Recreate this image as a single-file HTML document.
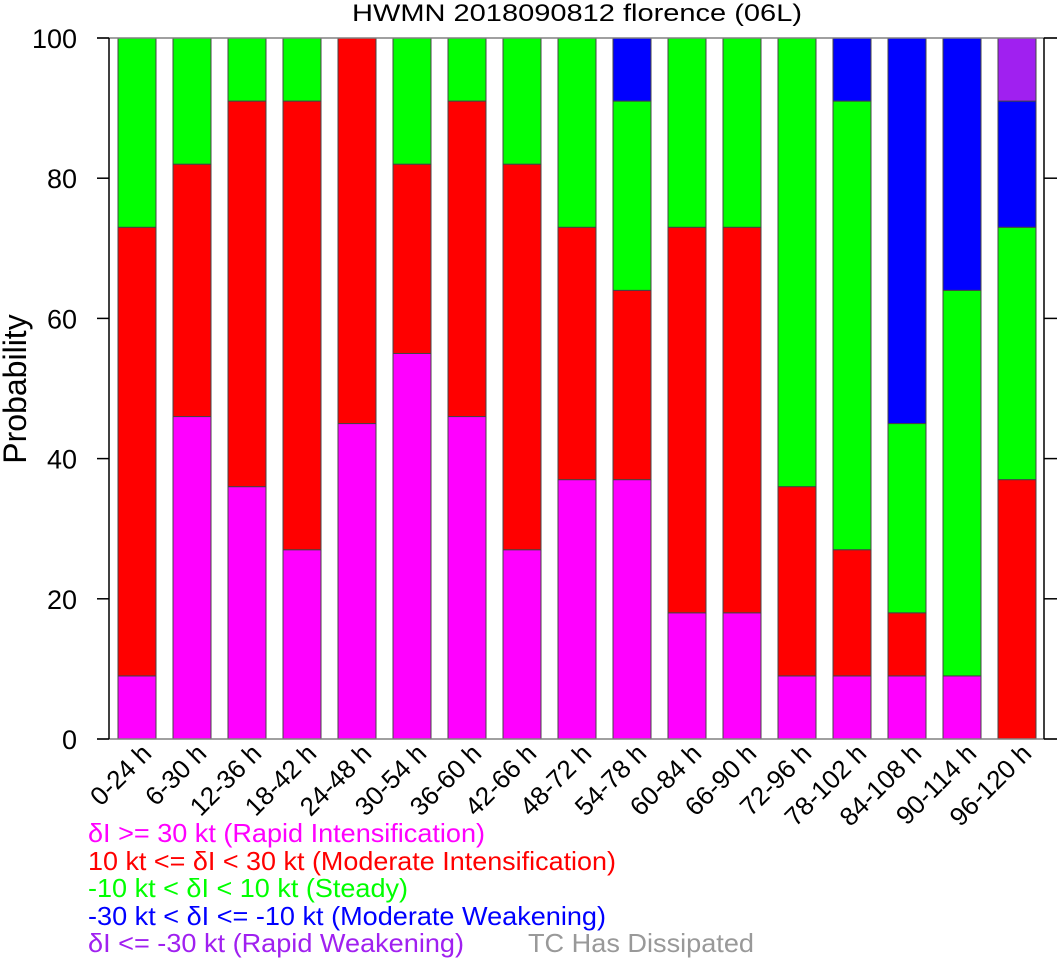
<!DOCTYPE html>
<html><head><meta charset="utf-8"><style>
body{margin:0;background:#fff}
svg{display:block;font-family:"Liberation Sans",sans-serif}
</style></head><body>
<svg id="chart" width="1057" height="959">
<text x="577" y="21" font-size="24" text-anchor="middle" textLength="450" lengthAdjust="spacingAndGlyphs">HWMN 2018090812 florence (06L)</text>
<g id="bars"></g>
<g id="axes"></g>
<text transform="translate(26,389) rotate(-90)" font-size="32" text-anchor="middle">Probability</text>
<g font-size="26">
<text x="88" y="842" fill="#ff00ff" textLength="397" lengthAdjust="spacingAndGlyphs">δI &gt;= 30 kt (Rapid Intensification)</text>
<text x="88" y="870" fill="#ff0000" textLength="528" lengthAdjust="spacingAndGlyphs">10 kt &lt;= δI &lt; 30 kt (Moderate Intensification)</text>
<text x="88" y="897" fill="#00ff00" textLength="320" lengthAdjust="spacingAndGlyphs">-10 kt &lt; δI &lt; 10 kt (Steady)</text>
<text x="88" y="925" fill="#0000ff" textLength="518" lengthAdjust="spacingAndGlyphs">-30 kt &lt; δI &lt;= -10 kt (Moderate Weakening)</text>
<text x="88" y="952" fill="#a020f0" textLength="376" lengthAdjust="spacingAndGlyphs">δI &lt;= -30 kt (Rapid Weakening)</text>
<text x="528" y="952" fill="#999999" textLength="226" lengthAdjust="spacingAndGlyphs">TC Has Dissipated</text>
</g>
</svg>
<script>
const categories=["0-24 h","6-30 h","12-36 h","18-42 h","24-48 h","30-54 h","36-60 h","42-66 h","48-72 h","54-78 h","60-84 h","66-90 h","72-96 h","78-102 h","84-108 h","90-114 h","96-120 h"];
const rapidInt=[9,46,36,27,45,55,46,27,37,37,18,18,9,9,9,9,0];
const moderateInt=[64,36,55,64,55,27,45,55,36,27,55,55,27,18,9,0,37];
const steady=[27,18,9,9,0,18,9,18,27,27,27,27,64,64,27,55,36];
const moderateWeak=[0,0,0,0,0,0,0,0,0,9,0,0,0,9,55,36,18];
const rapidWeak=[0,0,0,0,0,0,0,0,0,0,0,0,0,0,0,0,9];
const yTicks=[0,20,40,60,80,100];
const series=[[rapidInt,"#ff00ff","rapid-int"],[moderateInt,"#ff0000","moderate-int"],[steady,"#00ff00","steady"],[moderateWeak,"#0000ff","moderate-weak"],[rapidWeak,"#a020f0","rapid-weak"]];
const NS="http://www.w3.org/2000/svg";
const L=109,R=1044,T=38,B=739;
const y=v=>B-(v/100)*(B-T);
const x=i=>137+55*i;
const bw=38;
const bars=document.getElementById('bars'),axes=document.getElementById('axes');
function mk(tag,attrs,parent){const e=document.createElementNS(NS,tag);for(const k in attrs)e.setAttribute(k,attrs[k]);parent.appendChild(e);return e;}
categories.forEach((c,i)=>{
  let cum=0;const cx=x(i);
  series.forEach(([arr,col,nm])=>{
    const v=arr[i];if(v<=0)return;
    const r=mk('rect',{x:cx-bw/2,y:y(cum+v),width:bw,height:y(cum)-y(cum+v),fill:col,stroke:"#444","stroke-width":1},bars);
    
    
    cum+=v;
  });
  const t=mk('text',{x:0,y:0,"font-size":26,"text-anchor":"end",transform:`translate(${cx+16},${B+16}) rotate(-45)`},axes);
  t.textContent=c;
  
  
});
mk('line',{x1:97,x2:1057,y1:T,y2:T,stroke:"#808080","stroke-width":1.5},axes);
mk('line',{x1:97,x2:1057,y1:B,y2:B,stroke:"#808080","stroke-width":1.5},axes);
mk('line',{x1:L,x2:L,y1:T,y2:B,stroke:"#000","stroke-width":1.5},axes);
mk('line',{x1:R,x2:R,y1:T,y2:B,stroke:"#000","stroke-width":1.5},axes);
yTicks.forEach(v=>{
  mk('line',{x1:97,x2:L,y1:y(v),y2:y(v),stroke:"#000","stroke-width":1.5},axes);
  mk('line',{x1:R,x2:1057,y1:y(v),y2:y(v),stroke:"#000","stroke-width":1.5},axes);
  const t=mk('text',{x:77,y:y(v)+10,"font-size":27,"text-anchor":"end"},axes);
  t.textContent=v;
  
  
});
</script>
</body></html>
